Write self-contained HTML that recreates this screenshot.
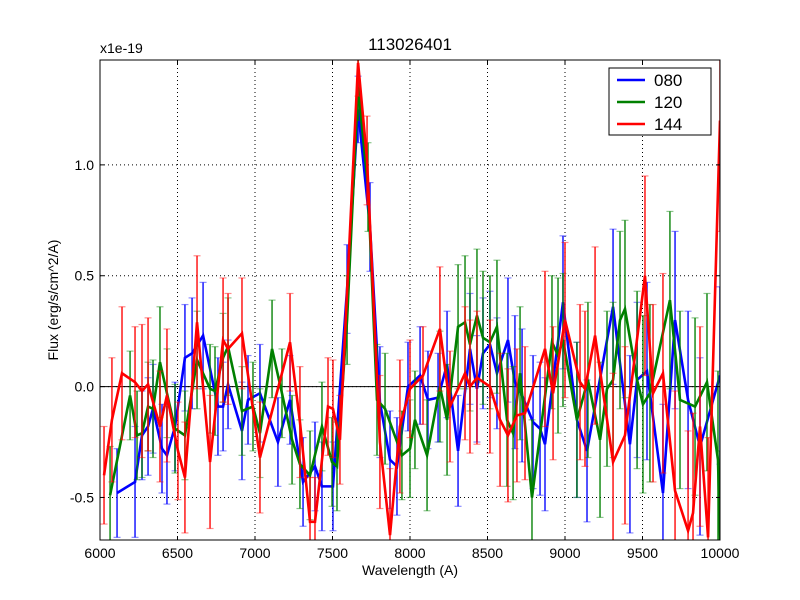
<!DOCTYPE html>
<html><head><meta charset="utf-8"><style>
html,body{margin:0;padding:0;background:#fff;width:800px;height:600px;overflow:hidden;}
svg{display:block;}
svg text{font-family:"Liberation Sans","DejaVu Sans",sans-serif;}
</style></head><body>
<svg id="chart" width="800" height="600" viewBox="0 0 800 600" xmlns="http://www.w3.org/2000/svg">
<rect width="800" height="600" fill="#fff"/>
<defs><clipPath id="clip"><rect x="100" y="60" width="620" height="480"/></clipPath></defs>
<g id="grid"></g>
<g id="series" clip-path="url(#clip)"></g>
<rect x="100" y="60" width="620" height="480" fill="none" stroke="#000" stroke-width="1"/>
<g id="ticks"></g>
<text x="410" y="50" font-size="17" text-anchor="middle">113026401</text>
<text x="100" y="53" font-size="14">x1e-19</text>
<text x="410" y="575" font-size="14" text-anchor="middle">Wavelength (A)</text>
<text x="58" y="300" font-size="14" text-anchor="middle" transform="rotate(-90 58 300)">Flux (erg/s/cm^2/A)</text>
<g>
<rect x="609" y="68" width="102" height="67" fill="#fff" stroke="#000" stroke-width="1"/>
<g><line x1="617" y1="80" x2="645" y2="80" stroke="#0000ff" stroke-width="2.5"/><text x="654" y="86" font-size="17">080</text></g>
<g><line x1="617" y1="102" x2="645" y2="102" stroke="#008000" stroke-width="2.5"/><text x="654" y="108" font-size="17">120</text></g>
<g><line x1="617" y1="124" x2="645" y2="124" stroke="#ff0000" stroke-width="2.5"/><text x="654" y="130" font-size="17">144</text></g>
</g>
</svg>
<script>
const xTicks=[6000,6500,7000,7500,8000,8500,9000,9500,10000];
const yTicks=[-0.5,0.0,0.5,1.0];
const yTickLabels=["-0.5","0.0","0.5","1.0"];
const blueW=[6110,6226,6271,6310,6342,6400,6432,6484,6548,6594,6665,6761,6794,6826,6916,6955,7032,7148,7226,7310,7387,7432,7503,7594,7665,7742,7806,7871,7916,7987,8065,8116,8181,8239,8310,8387,8432,8471,8516,8561,8632,8677,8723,8794,8839,8871,8987,9077,9142,9310,9419,9465,9529,9632,9710,9794,9871,10000];
const blueY=[-0.48,-0.43,-0.22,-0.18,-0.1,-0.28,-0.31,-0.18,0.13,0.15,0.23,-0.09,-0.09,0.01,-0.2,-0.06,-0.03,-0.25,-0.06,-0.43,-0.36,-0.45,-0.45,0.44,1.25,0.72,-0.07,-0.33,-0.36,0.0,0.05,-0.06,-0.05,0.1,-0.29,0.17,-0.01,0.15,0.19,0.06,0.21,0.02,-0.04,-0.16,-0.19,-0.26,0.38,-0.15,-0.29,0.36,-0.26,0.03,0.07,-0.48,0.3,-0.06,-0.27,0.05];
const blueE=[0.2,0.25,0.2,0.22,0.2,0.2,0.22,0.2,0.24,0.25,0.24,0.22,0.2,0.2,0.22,0.2,0.22,0.2,0.2,0.2,0.2,0.2,0.2,0.2,0.15,0.2,0.25,0.22,0.22,0.2,0.22,0.22,0.2,0.24,0.25,0.25,0.24,0.25,0.24,0.25,0.28,0.3,0.3,0.3,0.3,0.3,0.3,0.35,0.32,0.35,0.4,0.35,0.4,0.4,0.4,0.4,0.4,0.4];
const greenW=[6065,6194,6239,6271,6310,6342,6387,6432,6484,6548,6626,6710,6742,6794,6826,6916,6987,7032,7110,7174,7239,7290,7355,7432,7497,7529,7594,7665,7729,7787,7839,7948,8000,8032,8110,8193,8239,8310,8355,8387,8432,8471,8516,8561,8626,8665,8710,8787,8916,8955,8987,9077,9148,9226,9271,9310,9355,9387,9465,9503,9548,9677,9742,9839,9916,9987,10000];
const greenY=[-0.49,-0.04,-0.22,-0.21,-0.09,-0.1,0.11,-0.03,-0.19,-0.22,0.12,-0.01,-0.02,0.13,0.18,-0.11,-0.09,-0.21,0.17,-0.03,-0.24,-0.35,-0.4,-0.18,-0.34,-0.36,0.3,1.35,0.9,-0.06,-0.1,-0.31,-0.28,-0.15,-0.31,0.0,-0.15,0.27,0.29,0.19,0.32,0.22,0.2,0.27,-0.15,-0.21,0.06,-0.5,0.2,0.14,0.21,-0.15,0.03,-0.24,-0.01,0.03,0.3,0.35,0.03,-0.08,-0.03,0.39,-0.06,-0.09,0.02,-0.33,-0.69];
const greenE=[0.22,0.2,0.2,0.2,0.2,0.22,0.25,0.2,0.2,0.2,0.22,0.2,0.2,0.2,0.22,0.2,0.2,0.2,0.22,0.2,0.2,0.2,0.2,0.2,0.2,0.2,0.2,0.15,0.2,0.25,0.25,0.2,0.22,0.22,0.25,0.25,0.25,0.28,0.3,0.3,0.3,0.3,0.3,0.3,0.3,0.3,0.3,0.35,0.3,0.35,0.3,0.35,0.35,0.35,0.35,0.35,0.4,0.4,0.4,0.4,0.4,0.4,0.4,0.4,0.4,0.4,0.4];
const redW=[6026,6077,6142,6226,6271,6310,6387,6432,6503,6548,6626,6710,6794,6826,6916,7032,7226,7290,7355,7387,7471,7503,7548,7665,7723,7806,7871,7935,8000,8084,8193,8258,8355,8387,8432,8516,8581,8632,8690,8742,8871,8923,9000,9097,9129,9194,9310,9387,9516,9568,9632,9710,9794,9826,9871,9923,10000];
const redY=[-0.4,-0.15,0.06,0.02,-0.02,0.01,-0.18,-0.04,-0.29,-0.41,0.29,-0.34,0.21,0.17,0.24,-0.32,0.2,-0.16,-0.61,-0.61,-0.09,-0.1,-0.24,1.46,1.02,-0.25,-0.67,-0.18,-0.01,0.05,0.26,-0.09,0.06,0.0,0.04,0.0,-0.15,-0.22,-0.13,-0.12,0.17,-0.03,0.3,0.02,-0.01,0.23,-0.34,-0.22,0.5,-0.03,0.06,-0.47,-0.65,-0.57,-0.18,-0.68,1.2];
const redE=[0.22,0.28,0.3,0.25,0.3,0.3,0.25,0.3,0.22,0.25,0.3,0.3,0.28,0.25,0.25,0.25,0.22,0.25,0.2,0.2,0.22,0.22,0.2,0.15,0.2,0.3,0.3,0.3,0.22,0.22,0.28,0.25,0.3,0.3,0.3,0.3,0.3,0.3,0.3,0.3,0.35,0.3,0.35,0.35,0.35,0.4,0.4,0.4,0.45,0.4,0.45,0.45,0.45,0.45,0.45,0.45,0.5];

const X0=100,X1=720,Y0=60,Y1=540,xmin=6000,xmax=10000,ymin=-0.6919,ymax=1.4730;
function sx(w){return X0+(w-xmin)/(xmax-xmin)*(X1-X0);}
function sy(v){return Y1-(v-ymin)/(ymax-ymin)*(Y1-Y0);}
function cl(p){return Math.max(Y0,Math.min(Y1,p));}
const NS="http://www.w3.org/2000/svg";
function mk(tag,attrs,parent){const e=document.createElementNS(NS,tag);for(const k in attrs)e.setAttribute(k,attrs[k]);parent.appendChild(e);return e;}
const grid=document.getElementById('grid'),ticks=document.getElementById('ticks'),ser=document.getElementById('series');
xTicks.forEach(t=>{const x=sx(t);
 const g=mk('line',{x1:x,y1:Y0,x2:x,y2:Y1,stroke:'#000','stroke-dasharray':'1,3','stroke-width':1},grid);
 
 
 mk('line',{x1:x,y1:Y1,x2:x,y2:Y1-4,stroke:'#000'},ticks);
 mk('line',{x1:x,y1:Y0,x2:x,y2:Y0+4,stroke:'#000'},ticks);
 const tx=mk('text',{x:x,y:Y1+18,'font-size':14,'text-anchor':'middle'},ticks);tx.textContent=t;
 
 
});
yTicks.forEach((t,i)=>{const y=sy(t);
 const g=mk('line',{x1:X0,y1:y,x2:X1,y2:y,stroke:'#000','stroke-dasharray':'1,3','stroke-width':1},grid);
 
 
 mk('line',{x1:X0,y1:y,x2:X0+4,y2:y,stroke:'#000'},ticks);
 mk('line',{x1:X1,y1:y,x2:X1-4,y2:y,stroke:'#000'},ticks);
 const tx=mk('text',{x:X0-6,y:y+5,'font-size':14,'text-anchor':'end'},ticks);tx.textContent=yTickLabels[i];
 
 
});
const zl=mk('line',{x1:X0,y1:sy(0),x2:X1,y2:sy(0),stroke:'#000','stroke-width':1},grid);


function draw(W,Y,E,color,name){
 const g=mk('g',{},ser);
 
 
 W.forEach((w,i)=>{const x=sx(w),ra=sy(Y[i]+E[i]),rb=sy(Y[i]-E[i]),a=cl(ra),b=cl(rb);
  const l=mk('line',{x1:x,y1:a,x2:x,y2:b,stroke:color,'stroke-width':1.5,'stroke-opacity':0.9},g);
  
  
  if(ra===a) mk('line',{x1:x-3.5,y1:a,x2:x+3.5,y2:a,stroke:color,'stroke-width':1.2,'stroke-opacity':0.45},g);
  if(rb===b) mk('line',{x1:x-3.5,y1:b,x2:x+3.5,y2:b,stroke:color,'stroke-width':1.2,'stroke-opacity':0.45},g);
 });
 const p=mk('polyline',{points:W.map((w,i)=>sx(w)+','+cl(sy(Y[i]))).join(' '),fill:'none',stroke:color,'stroke-width':2.6,'stroke-linejoin':'miter'},g);
 
 
}
draw(blueW,blueY,blueE,'#0000ff','series-080');
draw(greenW,greenY,greenE,'#008000','series-120');
draw(redW,redY,redE,'#ff0000','series-144');
</script>
</body></html>
